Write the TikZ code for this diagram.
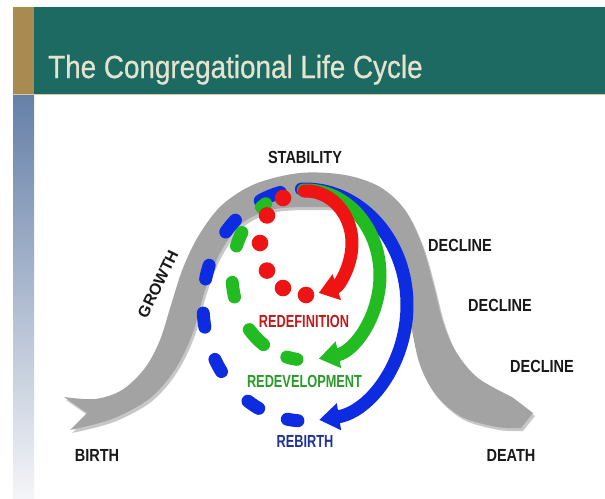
\documentclass[tikz,border=0pt]{standalone}
\usepackage{fontspec}
\setmainfont{Liberation Sans}
\newfontfamily\titlefont[FakeStretch=0.87,FakeBold=0.6]{Liberation Sans}
\newfontfamily\lblfont[FakeStretch=0.83]{Liberation Sans}
\newfontfamily\clrfont[FakeStretch=0.73]{Liberation Sans}
\usetikzlibrary{arrows.meta,calc}
\definecolor{teal0}{HTML}{1C6A61}
\definecolor{gold0}{HTML}{A98B52}
\definecolor{bar0}{HTML}{6680A8}
\definecolor{bar1}{HTML}{F4F5F8}
\definecolor{band0}{HTML}{A3A3A3}
\definecolor{red0}{HTML}{EE1414}
\definecolor{green0}{HTML}{22BB22}
\definecolor{blue0}{HTML}{0D2BE0}
\definecolor{redtxt}{HTML}{C01A1A}
\definecolor{greentxt}{HTML}{2A9A2A}
\definecolor{bluetxt}{HTML}{1F3399}
\definecolor{cream}{HTML}{E4E3CF}
\newcommand\bandshape[1]{%
\fill[#1] (64,397) -- plot[smooth,tension=0.55] coordinates {(64,397) (95,399) (122,390) (145,368) (160,340) (171,305) (183,268) (199,235) (222,205) (255,184) (300,173) (345,175) (380,187) (405,210) (422,245) (433,283) (443,322) (456,352) (478,378) (512,397)}
 -- (533,413) -- (521,428) -- plot[smooth,tension=0.55] coordinates {(521,428) (497,427) (462,417) (436,395) (420,365) (411,325) (404,285) (394,250) (378,225) (350,210) (310,207) (270,210) (240,225) (219,255) (205,290) (192,335) (174,371) (149,399) (112,419) (70,430)}
 -- (87,413) -- cycle;}
\begin{document}
\begin{tikzpicture}[x=1pt,y=-1pt,
  lbl/.style={inner sep=0pt,text=black!90,font=\lblfont\fontsize{17.5pt}{20pt}\selectfont\bfseries},
  glbl/.style={inner sep=0pt,text=black!90,font=\fontsize{16pt}{18pt}\selectfont\bfseries},
  clbl/.style={inner sep=0pt,font=\clrfont\fontsize{17.5pt}{20pt}\selectfont\bfseries},
  bluedash/.style={blue0,line width=13pt,line cap=round},
  greendash/.style={green0,line width=13pt,line cap=round},
  bluesolid/.style={blue0,line width=13pt,line cap=round,-{Triangle[length=20pt,width=26pt]}},
  greensolid/.style={green0,line width=13pt,line cap=round,-{Triangle[length=20pt,width=26pt]}},
  redsolid/.style={red0,line width=13pt,line cap=round,-{Triangle[length=19pt,width=26pt]}}]
\useasboundingbox (0,0) rectangle (605,498);
\fill[white] (0,0) rectangle (605,498);
% header
\fill[gold0] (13,7) rectangle (34,94);
\fill[teal0] (34,7) rectangle (605,94);
\shade[top color=bar0,bottom color=bar1] (13,95) rectangle (34,498);
\draw[color={rgb,255:red,216;green,204;blue,168},line width=1.2pt] (13,94.5) -- (605,94.5);
\node[anchor=base west,inner sep=0pt,text=cream,font=\titlefont\fontsize{32pt}{36pt}\selectfont] (title) at (48,78) {The Congregational Life Cycle};
% band
\bandshape{black,opacity=.22,shift={(2,3)}}
\bandshape{band0}
% centres
\coordinate (bc) at (305,305);
\coordinate (gc) at (306,275);
\coordinate (rc) at (306,243);
% blue
\foreach \a/\b in {-116/-104,-141/-133,-167/-160,-191/-184,-215/-208,-243/-236,-266/-260}
  \draw[bluedash] ($(bc)+(\a:102 and 116)$) arc[start angle=\a,end angle=\b,x radius=102,y radius=116];
\draw[bluesolid] ($(bc)+(-92:102 and 116)$) arc[start angle=-92,end angle=82,x radius=102,y radius=116];
% green
\foreach \a/\b in {-127/-123,-160/-150,-195/-185,-235/-220,-263/-255}
  \draw[greendash] ($(gc)+(\a:74 and 85)$) arc[start angle=\a,end angle=\b,x radius=74,y radius=85];
\draw[greensolid] ($(gc)+(-92:74 and 85)$) arc[start angle=-92,end angle=80,x radius=74,y radius=85];
% red
\foreach \t in {120,148,180,212,240,270}
  \fill[red0] ($(rc)+(-\t:46 and 52)$) circle[radius=8.3];
\draw[redsolid] ($(rc)+(-92:46 and 52)$) arc[start angle=-92,end angle=74,x radius=46,y radius=52];
% labels
\node[lbl] (stab) at (305,157) {STABILITY};
\node[lbl] (dec1) at (460,245) {DECLINE};
\node[lbl] (dec2) at (500,305.5) {DECLINE};
\node[lbl] (dec3) at (542,366) {DECLINE};
\node[lbl] (birth) at (97,455) {BIRTH};
\node[lbl] (death) at (511,455) {DEATH};
\node[glbl,rotate=64] (growth) at (158,284) {GROWTH};
\node[clbl,text=redtxt] (redef) at (304,321.5) {REDEFINITION};
\node[clbl,text=greentxt] (redev) at (304.5,381.5) {REDEVELOPMENT};
\node[clbl,text=bluetxt] (rebirth) at (305,441.5) {REBIRTH};
\end{tikzpicture}
\end{document}
